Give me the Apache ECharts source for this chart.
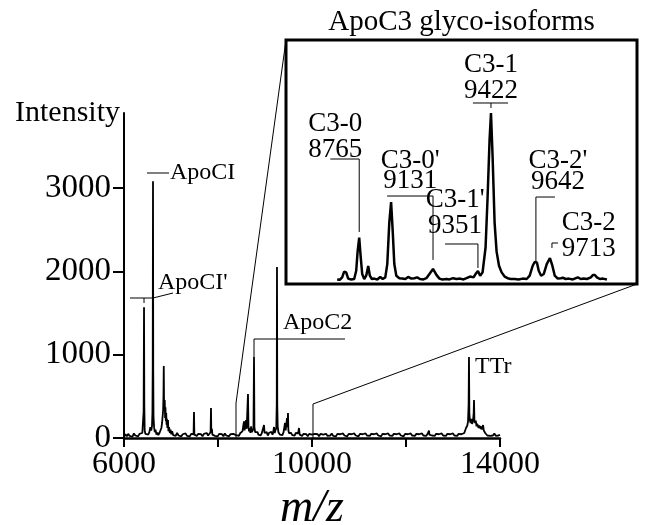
<!DOCTYPE html>
<html><head><meta charset="utf-8">
<script src="https://cdn.jsdelivr.net/npm/echarts@6/dist/echarts.min.js"></script>
<style>html,body{margin:0;padding:0;background:#fff}#c{width:647px;height:525px}</style>
</head><body><div id="c"></div>
<script>
// ---- Main spectrum (m/z, intensity) ----
const mainMz = [
6000,6030,6060,6090,6120,6150,6180,6210,6240,6270,6300,6330,6360,6390,
6410,6418,6426,6432,6440,6455,6475,6495,6515,6540,6560,6580,6595,
6605,6611,6617,6622,6628,6640,6655,6670,6690,6710,6730,6755,6775,6795,
6810,6822,6832,6840,6846,6852,6860,6867,6874,6882,6890,6898,6906,6914,6922,6936,6945,6960,6975,6990,7005,7025,7045,
7070,7100,7130,7160,7190,7220,7250,7280,7310,7340,7370,7400,7430,7460,
7480,7489,7497,7520,7550,7580,7610,7640,7670,7700,7730,7760,7790,7820,
7842,7851,7858,7870,7880,7905,7935,7965,7995,8025,8055,8085,8115,8145,8175,8205,8235,8265,8295,8325,8355,8385,8415,8445,8475,8500,8520,
8540,8553,8565,8580,8596,8610,8625,8638,8648,8660,8678,8690,8705,8720,8740,8755,8766,8775,8790,8805,8820,8840,8860,8880,8905,8930,8955,8979,8990,9010,9035,9060,9085,9110,9135,9160,9175,9192,9205,9225,9240,9250,9255,9261,9270,9285,9300,9320,9345,9370,9395,9412,9426,9440,9455,9468,9478,9489,9498,9510,9530,9555,9580,9605,9630,9655,9680,9705,9723,9738,9760,9790,9820,9850,9880,9910,9940,9970,10000,10030,10060,
10090,10120,10150,10180,10210,10240,10270,10300,10330,10360,10390,10420,10450,10480,10510,10540,10570,10600,10630,10660,10690,10720,10750,10780,10810,10840,10870,10900,10930,10960,10990,11020,11050,11080,11110,11140,11170,11200,11230,11260,11290,11320,11350,11380,11410,11440,11470,11500,11530,11560,11590,11620,11650,11680,11710,11740,11770,11800,11830,11860,11890,11920,11950,11980,12010,12040,12070,12100,12130,12160,12190,12220,12250,12280,12310,12340,12370,12400,12430,12460,12480,
12489,12498,12520,12550,12580,12610,12640,12670,12700,12730,12760,12790,12820,12850,12880,12910,12940,12970,13000,13030,13060,13090,13120,13150,13180,13210,13240,13260,13277,13290,13305,13320,13332,13340,13348,13360,13375,13390,13405,13425,13440,13447,13455,13470,13485,13500,13515,13532,13545,13560,13574,13590,13605,13620,13640,13655,13670,13685,13700,13730,13760,13790,13820,13850,13880,13910,13940,13970,14000
];
const mainInt = [
15,45,20,50,25,40,15,55,30,45,20,50,35,60,
80,320,1570,400,90,50,30,60,40,70,130,90,140,
300,850,3080,800,250,130,70,100,40,65,35,60,90,120,
180,260,330,500,864,420,360,456,240,370,200,300,160,230,120,216,80,130,60,100,45,80,35,
55,25,60,30,50,20,45,30,55,25,40,20,50,30,
45,312,40,55,25,50,30,45,20,50,35,60,30,50,
70,360,60,110,40,55,25,45,20,50,30,45,20,55,30,40,20,45,25,50,30,35,50,25,60,40,80,
60,200,90,70,216,110,90,528,140,80,120,60,140,70,60,110,972,130,70,90,50,70,40,60,30,55,60,156,60,40,70,30,60,40,75,40,70,132,60,80,120,400,2052,400,140,70,50,40,60,35,70,90,180,90,110,240,130,300,90,60,40,60,35,55,30,60,40,55,120,40,55,25,50,30,45,20,50,30,40,25,50,
30,45,20,50,30,40,20,50,25,45,30,55,25,40,20,50,30,45,25,55,30,40,20,50,30,45,25,55,30,40,20,50,30,45,25,55,30,40,25,50,30,45,25,55,30,40,20,50,30,45,25,55,30,40,25,50,30,45,25,55,30,40,20,50,30,45,25,55,30,40,25,50,30,45,25,55,30,40,25,50,60,
90,40,55,30,45,25,50,30,45,25,55,30,40,25,50,30,45,25,55,30,40,25,50,30,45,35,60,80,120,100,150,200,400,972,300,210,180,230,170,200,300,456,220,180,210,140,170,192,120,150,156,110,140,100,156,90,110,60,45,30,50,25,45,30,55,25,45,30,40
];
// ---- Inset: ApoC3 glyco-isoform region (m/z, intensity) ----
const insetMz = [
8655,8668,8680,8690,8695,8700,8710,8725,8740,8750,8757,8765,8772,8780,8790,8800,8810,8818,8828,8840,8855,8870,8882,8895,8905,8915,8924,8932,8940,8950,8965,8980,8995,9009,9025,9040,9054,9068,9085,9100,9115,9133,9150,9165,9180,9200,9215,9233,9250,9268,9285,9300,9318,9335,9345,9357,9368,9380,9395,9405,9415,9422,9430,9440,9450,9462,9475,9490,9505,9520,9540,9560,9580,9600,9615,9630,9640,9651,9660,9672,9685,9700,9716,9728,9740,9755,9770,9780,9795,9810,9830,9855,9870,9885,9900,9920,9930,9940,9950,9965,9980,10000
];
const insetInt = [
15,10,40,110,128,100,25,15,20,120,350,520,300,80,20,60,177,60,20,25,15,45,20,40,200,700,948,600,200,60,30,25,20,45,25,30,40,20,15,30,80,141,70,25,15,20,15,30,20,25,15,30,50,40,80,117,60,100,400,1000,1700,2020,1500,700,350,180,100,50,30,20,20,15,25,20,60,180,225,220,120,60,80,200,273,180,60,25,30,35,20,25,15,40,20,25,20,40,68,68,40,20,25,15
];
const yTickValues = [0, 1000, 2000, 3000];
const xTickValues = [6000, 8000, 10000, 12000, 14000];
const xLabelValues = [6000, 10000, 14000];
const mainPeakNames = ['ApoCI', "ApoCI'", 'ApoC2', 'TTr'];
const isoNames = ['C3-0', "C3-0'", "C3-1'", 'C3-1', "C3-2'", 'C3-2'];
const isoMasses = ['8765', '9131', '9351', '9422', '9642', '9713'];
const insetTitle = 'ApoC3 glyco-isoforms';

const FF = '"Liberation Serif","Times New Roman",serif';
const chart = echarts.init(document.getElementById('c'), null, {renderer: 'canvas'});
chart.setOption({
  animation: false,
  backgroundColor: '#fff',
  grid: [
    {left: 124, top: 113, width: 376, height: 325, outerBoundsMode: 'none', containLabel: false},
    {left: 286, top: 40, width: 351, height: 244, outerBoundsMode: 'none', containLabel: false,
     show: true, borderColor: '#000', borderWidth: 3, backgroundColor: 'transparent'}
  ],
  xAxis: [
    {gridIndex: 0, type: 'value', min: 6000, max: 14000,
     axisLine: {show: true, onZero: false, lineStyle: {color: '#000', width: 2.5}},
     axisTick: {show: true, customValues: xTickValues, length: 9, lineStyle: {color: '#000', width: 2}},
     axisLabel: {customValues: xLabelValues, formatter: v => String(v), fontSize: 32, fontFamily: FF, color: '#000', margin: 11},
     splitLine: {show: false},
     name: 'm/z', nameLocation: 'middle', nameGap: 44,
     nameTextStyle: {fontSize: 46, fontStyle: 'italic', fontFamily: FF, color: '#000'}},
    {gridIndex: 1, type: 'value', min: 8400, max: 10150, show: false}
  ],
  yAxis: [
    {gridIndex: 0, type: 'value', min: 0, max: 3900, interval: 1000,
     axisLine: {show: true, lineStyle: {color: '#000', width: 2}},
     axisTick: {show: true, customValues: yTickValues, length: 11, lineStyle: {color: '#000', width: 2}},
     axisLabel: {customValues: yTickValues, formatter: v => String(v), fontSize: 33, fontFamily: FF, color: '#000', margin: 13},
     splitLine: {show: false},
     name: 'Intensity', nameLocation: 'end', nameGap: 0,
     nameTextStyle: {align: 'right', verticalAlign: 'middle', fontSize: 30, fontFamily: FF, color: '#000', padding: [0, 4, 0, 0]}},
    {gridIndex: 1, type: 'value', min: -40, max: 2900, show: false}
  ],
  series: [
    {type: 'line', xAxisIndex: 0, yAxisIndex: 0, symbol: 'none', silent: true,
     data: mainMz.map((m, i) => [m, mainInt[i]]), lineStyle: {color: '#000', width: 1.8}},
    {type: 'line', xAxisIndex: 1, yAxisIndex: 1, symbol: 'none', silent: true,
     data: insetMz.map((m, i) => [m, insetInt[i]]), lineStyle: {color: '#000', width: 2.5}}
  ]
});

const P0 = v => chart.convertToPixel({gridIndex: 0}, v);
const P1 = v => chart.convertToPixel({gridIndex: 1}, v);
function pl(pts, w) {
  return {type: 'polyline', silent: true, z: 50, shape: {points: pts}, style: {stroke: '#000', lineWidth: w || 1, fill: null}};
}
function tx(str, pt, size, align) {
  return {type: 'text', silent: true, z: 50, x: pt[0], y: pt[1],
    style: {text: str, font: size + 'px ' + FF, fill: '#000', textAlign: align || 'center', textVerticalAlign: 'middle'}};
}
const g = [];
// main annotations
g.push(pl([P0([6489, 3180]), P0([6957, 3180])]));
g.push(tx(mainPeakNames[0], P0([6979, 3180]), 24, 'left'));
g.push(pl([P0([6128, 1680]), P0([6617, 1680]), P0([7043, 1740])]));
g.push(pl([P0([6426, 1680]), P0([6426, 1620])]));
g.push(tx(mainPeakNames[1], P0([6723, 1860]), 24, 'left'));
g.push(pl([P0([8766, 972]), P0([8766, 1188]), P0([10702, 1188])]));
g.push(tx(mainPeakNames[2], P0([9383, 1380]), 24, 'left'));
g.push(tx(mainPeakNames[3], P0([13468, 852]), 24, 'left'));
// connectors main -> inset
g.push(pl([P0([8383, 0]), P0([8383, 420]), P1([8400, 2900])]));
g.push(pl([P0([10021, 0]), P0([10021, 408]), P1([10150, -40])]));
// inset title
const c1 = P1([9275, 2900]);
g.push(tx(insetTitle, [c1[0], 22], 29, 'center'));
// inset annotations
const iso = [
  {lx: 8646, ly: [1888, 1575], lines: [[[8621, 1466], [8765, 1466], [8765, 587]]]},
  {lx: 9019, ly: [1440, 1200], lines: [[[8904, 1020], [9133, 1020], [9133, 250]]]},
  {lx: 9243, ly: [972, 660], lines: [[[9193, 442], [9357, 442], [9357, 153]]]},
  {lx: 9422, ly: [2599, 2290], lines: [[[9332, 2141], [9507, 2141]], [[9422, 2141], [9422, 2081]]]},
  {lx: 9756, ly: [1440, 1190], lines: [[[9741, 1008], [9646, 1008], [9646, 225]]]},
  {lx: 9910, ly: [695, 382], lines: [[[9756, 454], [9726, 454], [9726, 394]]]}
];
iso.forEach((a, i) => {
  g.push(tx(isoNames[i], P1([a.lx, a.ly[0]]), 27, 'center'));
  g.push(tx(isoMasses[i], P1([a.lx, a.ly[1]]), 27, 'center'));
  a.lines.forEach(l => g.push(pl(l.map(p => P1(p)))));
});
chart.setOption({graphic: g});
</script>
</body></html>
